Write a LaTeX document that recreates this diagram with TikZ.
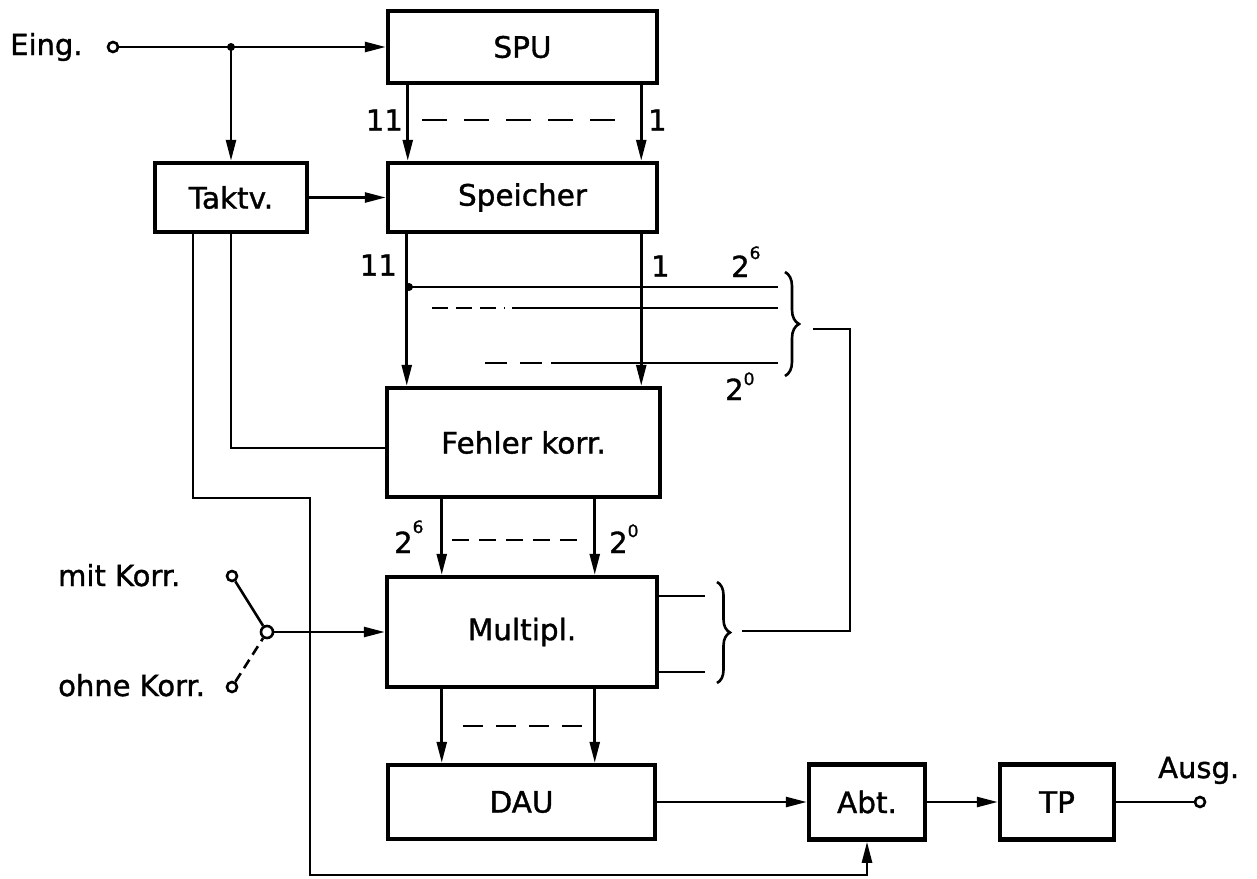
\documentclass[tikz,border=0pt]{standalone}
\usepackage{fontspec}
\setmainfont{DejaVu Sans}[FakeBold=1.2]
\usetikzlibrary{arrows.meta,decorations.pathreplacing,calc}
\newcommand{\sexp}[2]{2\raisebox{#2}{\fontsize{17}{17}\selectfont #1}}
\begin{document}
\begin{tikzpicture}[x=1pt,y=-1pt,
  blk/.style={draw,line width=4.5pt,inner sep=0pt,font=\fontsize{29.5}{31}\selectfont},
  ln/.style={line width=2.6pt},
  arr/.style={ln,-{Triangle[length=21pt,width=10pt]}},
  lbl/.style={inner sep=0pt,font=\fontsize{29}{31}\selectfont},
  term/.style={circle,draw,line width=2.6pt,minimum size=10pt,inner sep=0pt},
  brc/.style={ln,decorate,decoration={brace,amplitude=14pt}}]
\path[use as bounding box,fill=white] (0,0) rectangle (1257,878);

% blocks
\node[blk,minimum width=269pt,minimum height=72pt] (spu) at (522.5,47) {SPU};
\node[blk,minimum width=269pt,minimum height=69pt] (spe) at (522.5,197.5) {Speicher};
\node[blk,minimum width=152pt,minimum height=69pt] (tak) at (231,197.5) {Taktv.};
\node[blk,minimum width=273pt,minimum height=109pt] (fk) at (523.5,442.5) {Fehler korr.};
\node[blk,minimum width=270pt,minimum height=110pt] (mul) at (522,632) {Multipl.};
\node[blk,minimum width=267pt,minimum height=74pt] (dau) at (521.5,802) {DAU};
\node[blk,minimum width=116pt,minimum height=75pt] (abt) at (867,802) {Abt.};
\node[blk,minimum width=114pt,minimum height=75pt] (tp) at (1057,802) {TP};

% input
\node[term] (ein) at (113,47) {};
\node[lbl,anchor=base west] (einl) at (10,55) {Eing.};
\coordinate (j1) at (231,47);
\draw[arr] (ein.east) -- (spu.west);
\fill (j1) circle (4pt);
\draw[arr] (j1) -- (tak.north);
\draw[arr] (tak.east) -- (spe.west);

% SPU -> Speicher
\draw[arr] ([xshift=22pt]spu.south west) -- ([xshift=22pt]spe.north west);
\draw[arr] ([xshift=-18pt]spu.south east) -- ([xshift=-18pt]spe.north east);
\node[lbl,anchor=east] (l11a) at (403,120) {11};
\node[lbl,anchor=west] (l1a) at (648,120) {1};
\draw[ln,dash pattern=on 25pt off 17pt] (422,120) -- (629,120);

% Speicher -> Fehlerkorr
\draw[arr] ([xshift=21pt]spe.south west) -- ([xshift=22pt]fk.north west);
\draw[arr] ([xshift=-18pt]spe.south east) -- ([xshift=-21pt]fk.north east);
\node[lbl,anchor=east] (l11b) at (397,265) {11};
\node[lbl,anchor=west] (l1b) at (651,266) {1};
\coordinate (j2) at (409,287);
\fill (j2) circle (4pt);
\draw[ln] (j2) -- (778,287);
\draw[ln,dash pattern=on 16pt off 8pt] (432,308) -- (505,308);
\draw[ln] (512,308) -- (778,308);
\draw[ln,dash pattern=on 22pt off 13pt] (485,363) -- (545,363);
\draw[ln] (551,363) -- (778,363);
\node[lbl,anchor=base west] (e6a) at (731,277) {\sexp{6}{18pt}};
\node[lbl,anchor=base west] (e0a) at (725,400) {\sexp{0}{15pt}};
\draw[brc] (785,272) -- (785,376);
\coordinate (bt1) at (813,329);
\coordinate (r1) at (850,329);
\coordinate (r2) at (850,631);
\coordinate (bt2) at (742,631);
\draw[ln] (bt1) -- (r1) -- (r2) -- (bt2);

% Taktv feedback lines
\draw[ln] (tak.south) |- ([yshift=-5.5pt]fk.west);
\coordinate (c1) at (310,498);
\coordinate (c2) at (310,875);
\draw[arr] ([xshift=-38pt]tak.south) |- (c1) -- (c2) -| (abt.south);

% Fehlerkorr -> Multipl
\draw[arr] ([xshift=57pt]fk.south west) -- ([xshift=57pt]mul.north west);
\draw[arr] ([xshift=210pt]fk.south west) -- ([xshift=210pt]mul.north west);
\node[lbl,anchor=base west] (e6b) at (394,553) {\sexp{6}{20pt}};
\node[lbl,anchor=base west] (e0b) at (609,553) {\sexp{0}{16pt}};
\draw[ln,dash pattern=on 17pt off 10pt] (452,540) -- (586,540);

% Multipl outputs and brace
\draw[ln] ([yshift=36pt]mul.east) -- ++(46,0);
\draw[ln] ([yshift=-40pt]mul.east) -- ++(46,0);
\draw[brc,decoration={amplitude=13pt}] (717,582) -- (717,683);

% switch
\node[term,minimum size=10pt] (smit) at (232,576) {};
\node[term,minimum size=12pt] (spiv) at (267,632) {};
\node[term,minimum size=10pt] (sohne) at (232,687) {};
\draw[ln] (smit) -- (spiv);
\draw[ln,dash pattern=on 10pt off 6pt] (sohne) -- (spiv);
\draw[arr] (spiv.east) -- (mul.west);
\node[lbl,anchor=base west] (lmit) at (58,586) {mit Korr.};
\node[lbl,anchor=base west] (lohne) at (58,696) {ohne Korr.};

% Multipl -> DAU
\draw[arr] ([xshift=57pt]mul.south west) -- ([xshift=56pt]dau.north west);
\draw[arr] ([xshift=210pt]mul.south west) -- ([xshift=209pt]dau.north west);
\draw[ln,dash pattern=on 20pt off 13pt] (463,726) -- (586,726);

% output chain
\draw[arr] (dau.east) -- (abt.west);
\draw[arr] (abt.east) -- (tp.west);
\node[term] (aus) at (1200,802) {};
\draw[ln] (tp.east) -- (aus.west);
\node[lbl,anchor=base west] (ausl) at (1158,778) {Ausg.};
\end{tikzpicture}
\end{document}
